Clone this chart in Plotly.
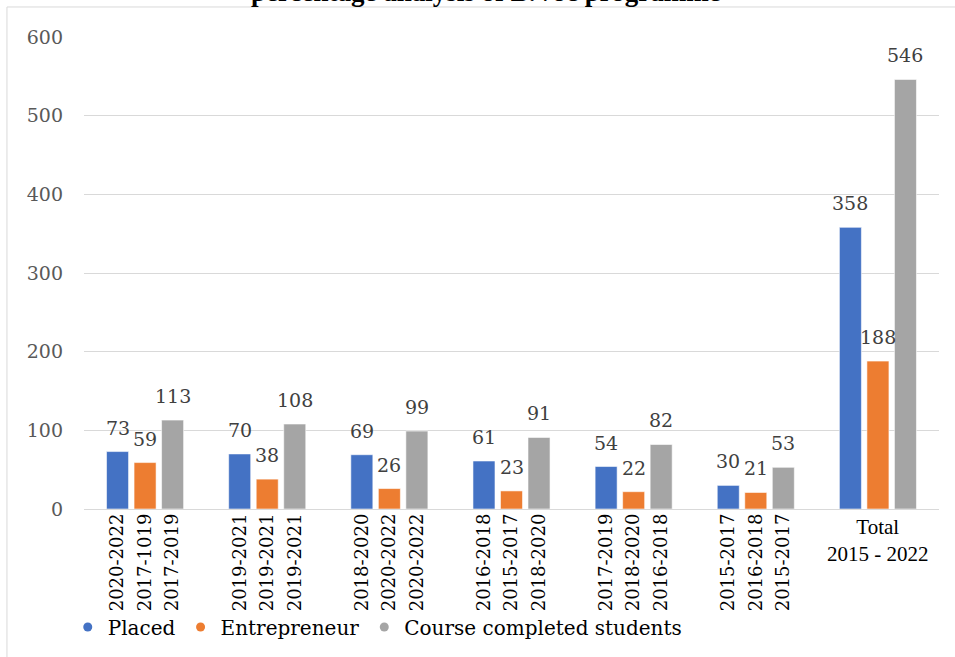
import plotly.graph_objects as go

# Student outcome counts by batch group, plus overall totals
series_names = ["Placed", "Entrepreneur", "Course completed students"]
placed = [73, 70, 69, 61, 54, 30, 358]
entrepreneur = [59, 38, 26, 23, 22, 21, 188]
completed = [113, 108, 99, 91, 82, 53, 546]

# Batch label under each bar (groups 1-6); last group carries a single total label
placed_batches = ["2020-2022", "2019-2021", "2018-2020", "2016-2018", "2017-2019", "2015-2017"]
entrepreneur_batches = ["2017-1019", "2019-2021", "2020-2022", "2015-2017", "2018-2020", "2016-2018"]
completed_batches = ["2017-2019", "2019-2021", "2020-2022", "2018-2020", "2016-2018", "2015-2017"]
total_label = "Total<br>2015 - 2022"

# value axis ticks
y_ticks = [0, 100, 200, 300, 400, 500, 600]

title_text = "percentage analysis of B.Voc programme"
colors = ["#4472C4", "#ED7D31", "#A5A5A5"]

TITLE_FONT = "Liberation Serif"
FONT = "DejaVu Serif"
BARGAP = 0.324
BARGROUPGAP = 0.2

values = [placed, entrepreneur, completed]
batches = [placed_batches, entrepreneur_batches, completed_batches]
groups = list(range(len(placed)))
n_series = len(values)
slot = (1 - BARGAP) / n_series

fig = go.Figure()
for name, vals, col in zip(series_names, values, colors):
    fig.add_trace(go.Bar(
        x=groups, y=vals, name=name, showlegend=False,
        marker=dict(color=col, line=dict(color="rgba(255,255,255,0.7)", width=0.8)),
        hoverinfo="y",
    ))

# circular legend markers
for name, col in zip(series_names, colors):
    fig.add_trace(go.Scatter(
        x=[None], y=[None], mode="markers", name=name,
        marker=dict(symbol="circle", size=9, color=col),
    ))

# per-bar tick labels and value labels
tickvals, ticktext = [], []
annotations = []
for k, (vals, labs) in enumerate(zip(values, batches)):
    offset = (k - (n_series - 1) / 2) * slot
    for g, v in zip(groups, vals):
        xc = g + offset
        if g < len(labs):
            tickvals.append(xc)
            ticktext.append(labs[g])
        annotations.append(dict(
            x=xc, y=v, xref="x", yref="y", text=str(v), showarrow=False,
            yanchor="bottom", xanchor="center", yshift=11,
            font=dict(family=FONT, size=19, color="#404040"),
        ))

annotations.append(dict(
    x=groups[-1], y=0, xref="x", yref="paper", text=total_label, showarrow=False,
    yanchor="top", xanchor="center", yshift=-4,
    font=dict(family=TITLE_FONT, size=21, color="#000000"),
))
annotations.append(dict(
    x=0.47, y=1, xref="paper", yref="paper", text="<b>" + title_text + "</b>",
    showarrow=False, yanchor="bottom", xanchor="center", yshift=28,
    font=dict(family=TITLE_FONT, size=27, color="#000000"),
))

fig.update_layout(
    width=955, height=657,
    margin=dict(l=84, r=16, t=37, b=148, autoexpand=False),
    paper_bgcolor="white", plot_bgcolor="white",
    barmode="group", bargap=BARGAP, bargroupgap=BARGROUPGAP,
    font=dict(family=FONT, color="#000000"),
    xaxis=dict(
        range=[-0.5, len(groups) - 0.5], showgrid=False, zeroline=False,
        tickmode="array", tickvals=tickvals, ticktext=ticktext, tickangle=-90,
        tickfont=dict(family=FONT, size=18, color="#000000"), showline=False,
    ),
    yaxis=dict(
        range=[y_ticks[0], y_ticks[-1]], tickmode="array", tickvals=y_ticks,
        showgrid=True, gridcolor="#D9D9D9", gridwidth=1,
        zeroline=True, zerolinecolor="#D9D9D9", zerolinewidth=1,
        tickfont=dict(family=FONT, size=19, color="#595959"), ticklabelstandoff=20,
    ),
    legend=dict(
        orientation="h", x=-0.019, xanchor="left", y=-0.25, yanchor="middle",
        font=dict(family=FONT, size=20, color="#000000"), itemwidth=30,
        bgcolor="rgba(0,0,0,0)", traceorder="normal",
    ),
    annotations=annotations,
    shapes=[
        dict(type="line", xref="paper", yref="paper", x0=-0.0901, x1=-0.0901,
             y0=1.0636, y1=-0.32, line=dict(color="#D9D9D9", width=1)),
        dict(type="line", xref="paper", yref="paper", x0=-0.0901, x1=1.02,
             y0=1.0636, y1=1.0636, line=dict(color="#D9D9D9", width=1)),
    ],
    showlegend=True,
)

fig.write_html("out.html")
